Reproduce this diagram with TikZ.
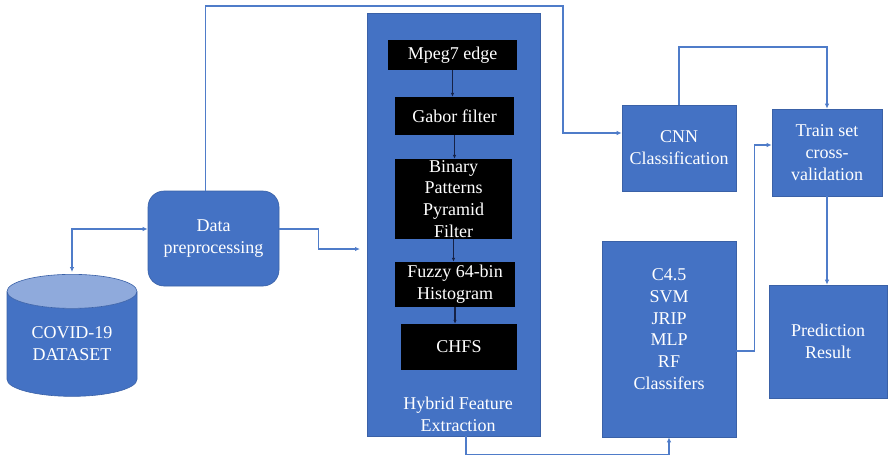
\documentclass[tikz,border=0pt]{standalone}
\usepackage{fontspec}
\setmainfont{Liberation Serif}
\usepackage{tikz}
\usetikzlibrary{shapes.geometric}
\usetikzlibrary{arrows.meta}
\definecolor{boxblue}{RGB}{68,114,196}
\definecolor{topblue}{RGB}{143,170,220}
\definecolor{lineblue}{RGB}{79,124,201}
\definecolor{darknavy}{RGB}{22,34,70}

\begin{document}
\begin{tikzpicture}[x=1pt, y=-1pt,
        block/.style={fill=boxblue, draw=boxblue!85!black, line width=0.6pt, text=white, align=center, inner sep=0pt, font=\fontsize{18}{21.8}\selectfont},
        blackbox/.style={fill=black, text=white, align=center, inner sep=0pt, font=\fontsize{18}{21.8}\selectfont},
        conn/.style={lineblue, line width=1.6pt, -{Latex[length=5pt,width=4.5pt]}},
        inner/.style={darknavy, line width=1.1pt, -{Latex[length=4pt,width=3.5pt]}}]
        \useasboundingbox (0,0) rectangle (889,459);

        %%-dataset and preprocessing
        \node[block, fill=none, cylinder, shape border rotate=90, aspect=0.42, minimum width=130pt, minimum height=122pt,
              cylinder uses custom fill, cylinder body fill=boxblue, cylinder end fill=topblue] (data) at (72,344) {COVID-19\\DATASET};
        \node[block, rounded corners=16pt, minimum width=131pt, minimum height=95pt] (prep) at (213.5,238.5) {Data\\preprocessing};

        %%-hybrid feature extraction
        \node[block, minimum width=173pt, minimum height=423pt] (panel) at (453.5,224.5) {};
        \node[block, draw=none, fill=none] (hfe) at (458,414) {Hybrid Feature\\Extraction};
        \node[blackbox, minimum width=129pt, minimum height=30pt] (mpeg) at (452.5,55) {Mpeg7 edge};
        \node[blackbox, minimum width=119pt, minimum height=38pt] (gabor) at (454.5,116) {Gabor filter};
        \node[blackbox, minimum width=117pt, minimum height=80pt] (bpp) at (453.5,199) {Binary\\Patterns\\Pyramid\\Filter};
        \node[blackbox, minimum width=120pt, minimum height=45pt] (fuzzy) at (455,284.5) {Fuzzy 64-bin\\Histogram};
        \node[blackbox, minimum width=116pt, minimum height=46pt] (chfs) at (459,347) {CHFS};

        \draw[inner] (mpeg.south) -- (mpeg.south |- gabor.north);
        \draw[inner] (gabor.south) -- (gabor.south |- bpp.north);
        \draw[inner] (bpp.south) -- (bpp.south |- fuzzy.north);
        \draw[inner] (fuzzy.south) -- (fuzzy.south |- chfs.north);

        %% classifiers
        \node[block, minimum width=114pt, minimum height=86pt] (cnn) at (679,148) {CNN\\Classification};
        \node[block, minimum width=110pt, minimum height=87pt] (train) at (827,152.5) {Train set\\cross-\\validation};
        \node[block, minimum width=134pt, minimum height=196pt] (c45) at (669,339) {C4.5\\SVM\\JRIP\\MLP\\RF\\Classifers\\[-2pt]};
        \node[block, minimum width=118pt, minimum height=113pt] (pred) at (828,341.5) {Prediction\\Result};

        %% connectors
        \coordinate (hin) at (360,249);
        \draw[conn, {Latex[length=5pt,width=4.5pt]}-{Latex[length=5pt,width=4.5pt]}] ([yshift=2pt]data.north) |- ([yshift=9.5pt]prep.west);
        \draw[conn] ([yshift=9.5pt]prep.east) -- ++(39,0) |- (hin);
        \draw[conn] ([xshift=-8pt]prep.north) |- (563,6) |- ([yshift=15pt]cnn.west);
        \draw[conn] (cnn.north) -- ++(0,-58) -| (train.north);
        \draw[conn] (train.south) -- (train.south |- pred.north);
        \draw[conn] ([yshift=-12pt]c45.east) -- ++(18,0) |- ([yshift=7.5pt]train.west);
        \draw[conn] ([xshift=12.5pt]panel.south) -- ++(0,18) -| (c45.south);
\end{tikzpicture}
\end{document}
